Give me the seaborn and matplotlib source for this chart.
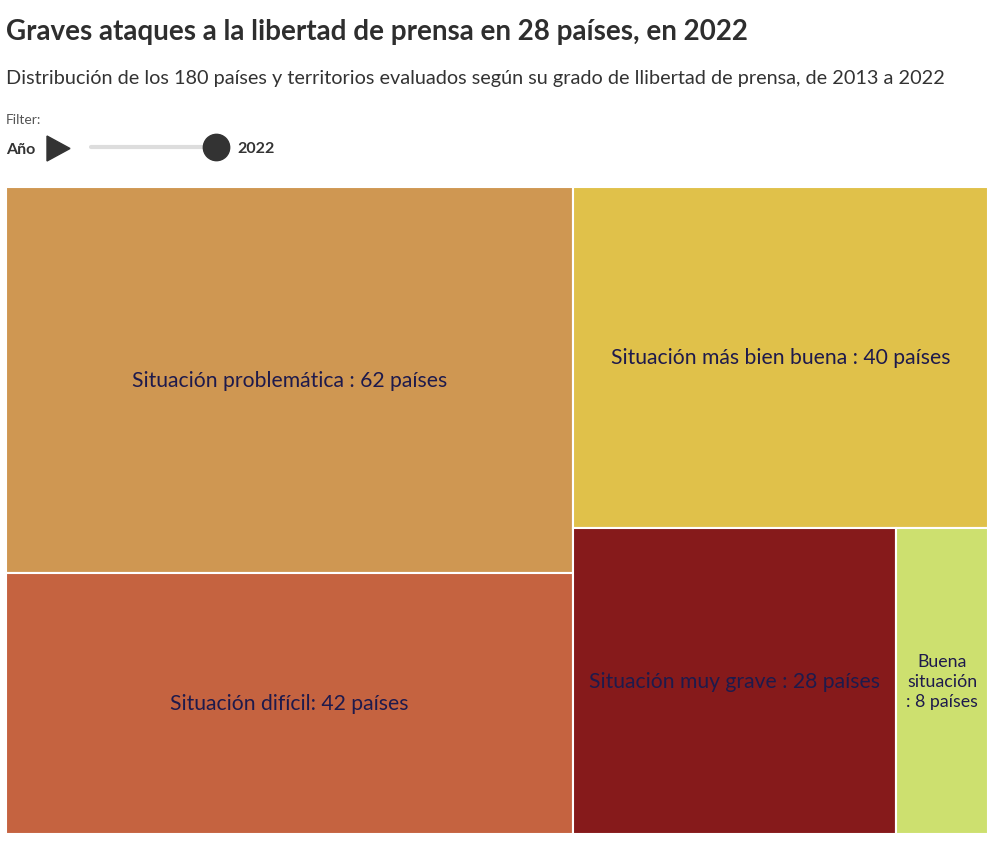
import matplotlib
matplotlib.use("Agg")
import matplotlib.pyplot as plt
import seaborn as sns

# data (2022)
categorias = ["Situación problemática", "Situación difícil", "Situación más bien buena",
              "Situación muy grave", "Buena situación"]
paises = [62, 42, 40, 28, 8]
colores = ["#CF9752", "#C56340", "#E0C14A", "#861A1B", "#CDE06F"]
etiquetas = ["Situación problemática : 62 países", "Situación difícil: 42 países",
             "Situación más bien buena : 40 países", "Situación muy grave : 28 países",
             "Buena\nsituación\n: 8 países"]

titulo = "Graves ataques a la libertad de prensa en 28 países, en 2022"
subtitulo = "Distribución de los 180 países y territorios evaluados según su grado de llibertad de prensa, de 2013 a 2022"
anio = "2022"

sns.set_theme(style="white")
plt.rcParams["font.family"] = ["Lato", "DejaVu Sans"]


def layout(vals, x, y, w, h):
    # split the sorted values in two halves, cut along the longer side
    if len(vals) == 1:
        return [(x, y, w, h)]
    total = sum(vals)
    best_k, best_d, acc = 1, None, 0
    for k in range(1, len(vals)):
        acc += vals[k - 1]
        d = abs(acc - total / 2)
        if best_d is None or d < best_d:
            best_k, best_d = k, d
    a = sum(vals[:best_k])
    if w >= h:
        w1 = w * a / total
        return layout(vals[:best_k], x, y, w1, h) + layout(vals[best_k:], x + w1, y, w - w1, h)
    h1 = h * a / total
    return layout(vals[:best_k], x, y, w, h1) + layout(vals[best_k:], x, y + h1, w, h - h1)


W, H = 982.0, 647.0
rects = layout(paises, 0, 0, W, H)

fig = plt.figure(figsize=(10, 8.53), dpi=100)
ax = fig.add_axes([0.006, (853 - 835) / 853, 0.982, 647 / 853])
for (x, y, w, h), c, lab in zip(rects, colores, etiquetas):
    ax.bar(x, h, width=w, bottom=y, align="edge", color=c, edgecolor="white", linewidth=1.5)
    fs = 15.2 if w > 150 else 12.8  # narrow cells get a smaller label
    ax.text(x + w / 2, y + h / 2, lab, ha="center", va="center", fontsize=fs,
            color="#1E1A4C", linespacing=1.3)
ax.set_xlim(0, W)
ax.set_ylim(H, 0)
ax.axis("off")

# header and slider (pixel coordinates)
hd = fig.add_axes([0, 0, 1, 1], zorder=-1)
hd.set_xlim(0, 1000)
hd.set_ylim(853, 0)
hd.axis("off")
hd.text(6, 32, titulo, fontsize=20, fontweight="bold", color="#2e2e2e", va="center")
hd.text(6, 78, subtitulo, fontsize=14.3, color="#333333", va="center")
hd.text(6, 120, "Filter:", fontsize=10, color="#555555", va="center")
hd.text(6, 150, "Año", fontsize=11.5, fontweight="bold", color="#333333", va="center")
hd.fill([47, 47, 70], [137, 162, 149.5], color="#333333")
hd.plot([91, 216], [148, 148], color="#dddddd", linewidth=3, solid_capstyle="round")
hd.scatter([216], [148], s=360, color="#333333", zorder=3)
hd.text(237, 149, anio, fontsize=11.5, fontweight="bold", color="#333333", va="center")

fig.savefig("out.png", dpi=100)
